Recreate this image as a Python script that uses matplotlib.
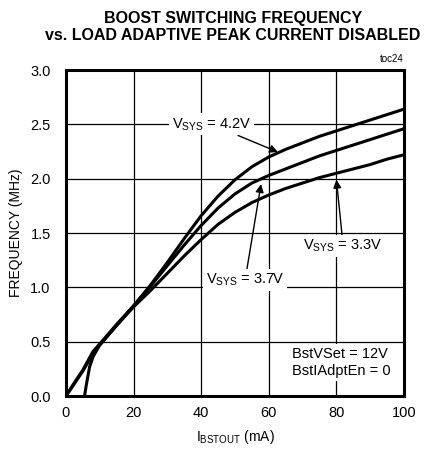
import matplotlib
matplotlib.use("Agg")
import matplotlib.pyplot as plt

plt.rcParams['font.family'] = ['Liberation Sans Narrow', 'Liberation Sans', 'DejaVu Sans']

# data (boost switching frequency in MHz vs load in mA)
i_42 = [0, 2, 5, 8, 10, 15, 20, 25, 30, 35, 40, 45, 50, 55, 60, 65, 70, 75, 80, 85, 90, 95, 100]
f_42 = [0, 0.09, 0.23, 0.39, 0.47, 0.65, 0.83, 1.02, 1.23, 1.45, 1.66, 1.84, 1.99, 2.11, 2.20,
        2.27, 2.33, 2.39, 2.44, 2.49, 2.54, 2.59, 2.64]

i_37 = [0, 2, 5, 8, 10, 15, 20, 25, 30, 35, 40, 45, 50, 55, 60, 65, 70, 75, 80, 85, 90, 95, 100]
f_37 = [0, 0.10, 0.24, 0.41, 0.48, 0.66, 0.83, 1.01, 1.20, 1.39, 1.57, 1.73, 1.86, 1.96, 2.03,
        2.09, 2.15, 2.21, 2.26, 2.31, 2.36, 2.41, 2.46]

i_33 = [5.5, 6, 7, 8, 10, 15, 20, 25, 30, 35, 40, 45, 50, 55, 60, 65, 70, 75, 80, 85, 90, 95, 100]
f_33 = [0, 0.10, 0.27, 0.36, 0.47, 0.65, 0.82, 0.97, 1.13, 1.29, 1.44, 1.58, 1.69, 1.78, 1.85,
        1.91, 1.96, 2.01, 2.05, 2.09, 2.13, 2.18, 2.22]

xticks = [0, 20, 40, 60, 80, 100]
yticks = [0.0, 0.5, 1.0, 1.5, 2.0, 2.5, 3.0]

fig = plt.figure(figsize=(4.29, 4.50), dpi=100)
ax = fig.add_axes([0.1538, 0.12, 0.788, 0.7244])

ax.plot(i_42, f_42, color='black', lw=2.2)
ax.plot(i_37, f_37, color='black', lw=2.2)
ax.plot(i_33, f_33, color='black', lw=2.2)

ax.set_xlim(0, 100)
ax.set_ylim(0, 3.0)
ax.set_xticks(xticks)
ax.set_yticks(yticks)
ax.set_yticklabels(['%.1f' % v for v in yticks])
ax.grid(True, color='black', lw=0.9)
ax.tick_params(axis='y', length=0, labelsize=10.5, pad=11)
ax.tick_params(axis='x', length=0, labelsize=10.5, pad=7)
for s in ax.spines.values():
    s.set_linewidth(2.2)

ax.set_xlabel(r'I$_{\mathregular{BSTOUT}}$ (mA)', fontsize=10, labelpad=6)
ax.set_ylabel('FREQUENCY (MHz)', fontsize=10, labelpad=5)

fig.text(0.543, 0.96, 'BOOST SWITCHING FREQUENCY', ha='center', va='center',
         fontsize=11.5, fontweight='bold')
fig.text(0.543, 0.92, 'vs. LOAD ADAPTIVE PEAK CURRENT DISABLED', ha='center', va='center',
         fontsize=11.5, fontweight='bold')
ax.text(1.0, 1.02, 'toc24', transform=ax.transAxes, ha='right', va='bottom', fontsize=7)

box = dict(facecolor='white', edgecolor='none', pad=2)
arr = dict(arrowstyle='-|>', color='black', lw=1, mutation_scale=12, shrinkA=0, shrinkB=0)
ax.annotate(r'V$_{\mathregular{SYS}}$ = 4.2V', xy=(62.7, 2.245), xytext=(43, 2.5),
            ha='center', va='center', fontsize=10.5, bbox=box, arrowprops=arr)
ax.annotate(r'V$_{\mathregular{SYS}}$ = 3.7V', xy=(57.7, 1.95), xytext=(53, 1.07),
            ha='center', va='center', fontsize=10.5, bbox=box, arrowprops=arr)
ax.annotate(r'V$_{\mathregular{SYS}}$ = 3.3V', xy=(80, 1.99), xytext=(82, 1.38),
            ha='center', va='center', fontsize=10.5, bbox=box, arrowprops=arr)
ax.text(67, 0.31, 'BstVSet = 12V\nBstIAdptEn = 0', ha='left', va='center',
        fontsize=10.5, linespacing=1.3, bbox=box)

fig.savefig('out.png', dpi=100)
